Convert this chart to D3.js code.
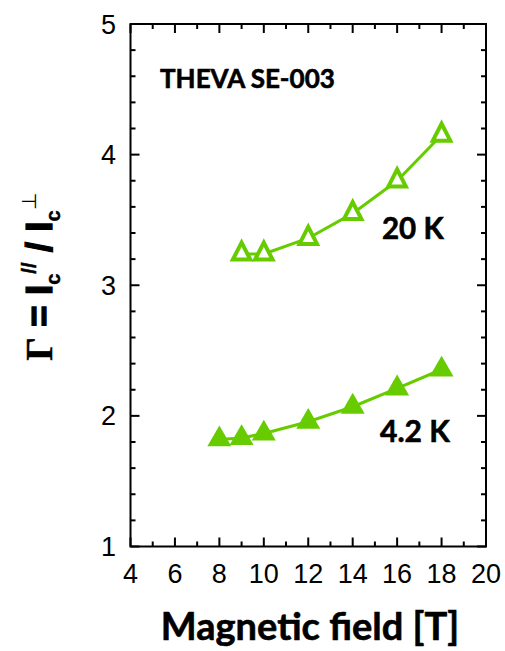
<!DOCTYPE html>
<html>
<head>
<meta charset="utf-8">
<script src="https://cdn.jsdelivr.net/npm/d3@7"></script>
<style>
  html, body { margin: 0; padding: 0; background: #fff; }
  svg { display: block; }
</style>
</head>
<body>
<svg id="chart" width="505" height="651"></svg>
<script>
// Anisotropy ratio of critical current vs. applied field, THEVA SE-003 tape
const field20K = [9, 10, 12, 14, 16, 18];
const gamma20K = [3.24, 3.24, 3.36, 3.55, 3.80, 4.15];
const field4K = [8, 9, 10, 12, 14, 16, 18];
const gamma4K = [1.82, 1.83, 1.865, 1.955, 2.07, 2.21, 2.355];
const xTickLabels = [4, 6, 8, 10, 12, 14, 16, 18, 20];
const yTickLabels = [1, 2, 3, 4, 5];

const green = "#66cc00";
const svg = d3.select("#chart");
const plotL = 130.5, plotR = 486, plotT = 24, plotB = 546.5;

const x = d3.scaleLinear().domain([4, 20]).range([plotL, plotR]);
const y = d3.scaleLinear().domain([1, 5]).range([plotB, plotT]);

const axisG = svg.append("g").attr("stroke", "#000").attr("stroke-width", 2);

// frame
axisG.append("rect")
  .attr("x", plotL).attr("y", plotT)
  .attr("width", plotR - plotL).attr("height", plotB - plotT)
  .attr("fill", "none");

// inward ticks on all four sides
const xMinor = d3.range(4, 20.001, 1);
xMinor.forEach(v => {
  const len = v % 2 === 0 ? 9 : 5;
  axisG.append("line").attr("x1", x(v)).attr("x2", x(v)).attr("y1", plotB).attr("y2", plotB - len);
  axisG.append("line").attr("x1", x(v)).attr("x2", x(v)).attr("y1", plotT).attr("y2", plotT + len);
});
const yMinor = d3.range(1, 5.0001, 0.2);
yMinor.forEach(v => {
  const major = Math.abs(v - Math.round(v)) < 1e-6;
  const len = major ? 9 : 5;
  axisG.append("line").attr("x1", plotL).attr("x2", plotL + len).attr("y1", y(v)).attr("y2", y(v));
  axisG.append("line").attr("x1", plotR).attr("x2", plotR - len).attr("y1", y(v)).attr("y2", y(v));
});

// tick labels
const tickFont = "'Liberation Sans', Arial, sans-serif";
svg.append("g").selectAll("text").data(xTickLabels).join("text")
  .attr("x", d => x(d)).attr("y", 583)
  .attr("text-anchor", "middle")
  .attr("font-family", tickFont).attr("font-size", 27)
  .text(d => d);
svg.append("g").selectAll("text").data(yTickLabels).join("text")
  .attr("x", 116).attr("y", d => y(d) + 9.5)
  .attr("text-anchor", "end")
  .attr("font-family", tickFont).attr("font-size", 27)
  .text(d => d);

// series lines
const line = d3.line().x(d => x(d[0])).y(d => y(d[1]));
const pts20 = field20K.map((f, i) => [f, gamma20K[i]]);
const pts4 = field4K.map((f, i) => [f, gamma4K[i]]);

svg.append("path").datum(pts20).attr("d", line)
  .attr("fill", "none").attr("stroke", green).attr("stroke-width", 3);
svg.append("path").datum(pts4).attr("d", line)
  .attr("fill", "none").attr("stroke", green).attr("stroke-width", 3);

// open marker: triangle roughly as tall as it is wide, centred on its centroid
const tallTriangle = {
  draw(ctx, size) {
    const w = Math.sqrt(size);
    const h = w * 0.97;
    ctx.moveTo(0, -h * 2 / 3);
    ctx.lineTo(w / 2, h / 3);
    ctx.lineTo(-w / 2, h / 3);
    ctx.closePath();
  }
};
const triOpen = d3.symbol().type(tallTriangle).size(17.5 * 17.5);
const triFill = d3.symbol().type(d3.symbolTriangle).size(250);
svg.append("g").selectAll("path").data(pts20).join("path")
  .attr("d", triOpen)
  .attr("transform", d => `translate(${x(d[0])},${y(d[1])})`)
  .attr("fill", "#fff").attr("stroke", green).attr("stroke-width", 4);
svg.append("g").selectAll("path").data(pts4).join("path")
  .attr("d", triFill)
  .attr("transform", d => `translate(${x(d[0])},${y(d[1])})`)
  .attr("fill", green);

// annotations
const boldFont = "Lato, 'Open Sans', sans-serif";
function heavy(sel) {
  return sel.attr("font-family", boldFont).attr("font-weight", 700)
    .attr("stroke", "#000").attr("stroke-width", 0.6).attr("fill", "#000");
}
heavy(svg.append("text").attr("x", 160).attr("y", 88).attr("font-size", 26))
  .text("THEVA SE-003");
heavy(svg.append("text").attr("x", 382).attr("y", 239).attr("font-size", 29.5))
  .text("20 K");
heavy(svg.append("text").attr("x", 380).attr("y", 442).attr("font-size", 30))
  .text("4.2 K");

// axis titles
heavy(svg.append("text").attr("x", 310).attr("y", 640)
  .attr("text-anchor", "middle").attr("font-size", 38))
  .text("Magnetic field [T]");

const yt = svg.append("text")
  .attr("transform", "translate(52,277) rotate(-90)")
  .attr("text-anchor", "middle")
  .attr("font-family", "'Liberation Sans', Arial, sans-serif")
  .attr("font-weight", 700).attr("font-size", 37)
  .attr("stroke", "#000").attr("stroke-width", 1.2);
yt.append("tspan").attr("font-family", "'Liberation Serif', 'Times New Roman', serif")
  .attr("stroke-width", 0.4).text("Γ");
yt.append("tspan").text(" = I");
yt.append("tspan").attr("font-size", 20).attr("stroke-width", 0.5).attr("dy", 8).text("c");
yt.append("tspan").attr("font-size", 20).attr("stroke-width", 0.5).attr("dy", -24).text("//");
yt.append("tspan").attr("dy", 16).text(" / I");
yt.append("tspan").attr("font-size", 20).attr("stroke-width", 0.5).attr("dy", 8).text("c");
yt.append("tspan").attr("font-size", 20).attr("font-weight", 400).attr("stroke-width", 0)
  .attr("dy", -24).text("⊥");
</script>
</body>
</html>
